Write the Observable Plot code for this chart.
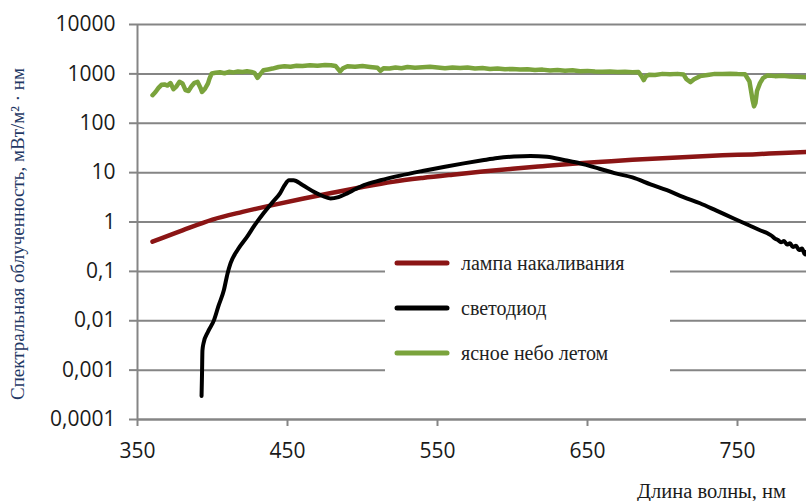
<!DOCTYPE html>
<html>
<head>
<meta charset="utf-8">
<script src="https://cdn.jsdelivr.net/npm/d3@7"></script>
<script src="https://cdn.jsdelivr.net/npm/@observablehq/plot@0.6"></script>
<style>
  body { margin: 0; background: #fff; }
  #wrap { position: relative; width: 806px; height: 501px; overflow: hidden; }
  #ytitle { position: absolute; left: -182px; top: 223px; width: 400px; text-align: center; line-height: 22px;
    transform: rotate(-90deg); font-family: "Liberation Serif", serif; font-size: 19px; color: #1f3864; white-space: nowrap; }
  #xtitle { position: absolute; left: 637px; top: 481px; line-height: 20px; font-family: "Liberation Serif", serif; font-size: 20.5px; color: #1a1a1a; white-space: nowrap; }
  #legend { position: absolute; left: 385px; top: 245px; width: 285px; height: 150px; background: #fff; }
  .lrow { position: absolute; left: 0; height: 24px; display: flex; align-items: center; }
  .lrow svg { margin-left: 9px; }
  .lrow span { margin-left: 11px; font-family: "Liberation Serif", serif; font-size: 20px; color: #222; white-space: nowrap; }
</style>
</head>
<body>
<div id="wrap"></div>
<script>
// ---- data ----
const xTicks = [350, 450, 550, 650, 750];
const yTicks = [10000, 1000, 100, 10, 1, 0.1, 0.01, 0.001, 0.0001];
const yTickLabels = ["10000", "1000", "100", "10", "1", "0,1", "0,01", "0,001", "0,0001"];

const seriesNames = ["лампа накаливания", "светодиод", "ясное небо летом"];
const seriesColors = ["#8b1515", "#000000", "#7aa33c"];

// incandescent lamp
const lampNm  = [360, 380, 400, 420, 440, 460, 480, 500, 520, 540, 560, 580, 600, 620, 640, 660, 680, 700, 720, 740, 760, 780, 796];
const lampVal = [0.40, 0.68, 1.12, 1.6, 2.2, 2.95, 3.9, 5.1, 6.5, 7.8, 9.1, 10.5, 12, 13.5, 15.1, 16.6, 18.2, 19.5, 20.9, 22.4, 23.4, 25.1, 26.3];

// LED
const ledNm  = [392.7, 393.0, 393.3, 394, 397, 401, 404, 407.6, 410, 412, 417, 423, 428, 434, 440, 445, 448, 451, 454, 460, 467.5, 473, 478.7, 484, 489.8, 495, 501, 512, 525, 540, 555, 567.5, 580, 590, 601, 612, 623, 635, 645, 658, 668, 680, 692, 703, 714, 725, 736, 747.5, 758, 765, 770, 773, 775, 777, 779, 781, 783, 785, 787, 789, 791, 793, 795, 796];
const ledVal = [0.0003, 0.0008, 0.0025, 0.0035, 0.006, 0.0103, 0.02, 0.042, 0.09, 0.145, 0.28, 0.5, 0.85, 1.5, 2.5, 3.8, 5.5, 7.0, 7.0, 5.6, 4.1, 3.4, 3.0, 3.2, 3.8, 4.6, 5.6, 7.0, 8.7, 10.8, 13.2, 15.4, 17.8, 19.8, 21.2, 21.8, 21, 17.8, 15.4, 12, 9.8, 8.0, 5.8, 4.4, 3.2, 2.4, 1.7, 1.18, 0.85, 0.68, 0.59, 0.52, 0.46, 0.43, 0.39, 0.41, 0.35, 0.37, 0.31, 0.33, 0.27, 0.29, 0.22, 0.25];

// clear summer sky
const skyNm  = [360, 362, 364, 366, 368, 370, 372, 374, 376, 378, 380, 382, 384, 386, 388, 390, 392, 393, 395, 397, 398, 399.5, 402, 405, 408, 411, 414, 417, 420, 423, 426, 428, 430, 432, 434, 437, 440, 444, 448, 452, 456, 460, 465, 470, 475, 479, 482, 485, 487, 490, 495, 500, 505, 510, 512, 514, 518, 522, 526, 530, 535, 540, 545, 550, 555, 560, 565, 570, 575, 580, 585, 590, 595, 600, 605, 610, 615, 620, 625, 630, 635, 640, 645, 650, 655, 660, 665, 670, 675, 680, 684, 686, 687.5, 689, 691, 695, 700, 705, 710, 714, 716, 718.7, 721, 725, 730, 735, 740, 745, 750, 755, 758, 760, 761, 762, 763, 765, 767, 770, 775, 780, 785, 790, 796];
const skyVal = [370, 430, 520, 600, 610, 580, 650, 490, 560, 690, 640, 470, 450, 560, 660, 690, 520, 430, 500, 640, 800, 1020, 1050, 1080, 1030, 1100, 1070, 1120, 1090, 1130, 1090, 1050, 830, 1000, 1180, 1230, 1280, 1380, 1430, 1400, 1460, 1440, 1500, 1460, 1510, 1500, 1450, 1120, 1300, 1430, 1400, 1440, 1380, 1330, 1150, 1300, 1290, 1350, 1300, 1380, 1330, 1360, 1390, 1340, 1300, 1350, 1310, 1340, 1280, 1310, 1250, 1290, 1240, 1260, 1220, 1240, 1200, 1220, 1170, 1200, 1160, 1180, 1130, 1150, 1120, 1110, 1120, 1090, 1100, 1080, 1090, 900, 750, 900, 960, 950, 1000, 980, 1000, 970, 780, 680, 780, 900, 950, 1000, 990, 1010, 990, 980, 700, 300, 220, 260, 450, 650, 820, 930, 900, 920, 880, 870, 850];

// ---- chart ----
const gray = "#858585";
const chart = Plot.plot({
  width: 806,
  height: 501,
  marginLeft: 137,
  marginRight: 0,
  marginTop: 24,
  marginBottom: 82,
  style: { background: "transparent", fontFamily: "'Open Sans', sans-serif", fontSize: "21px", color: "#1a1a1a" },
  x: { domain: [350, 796] },
  y: { type: "log", domain: [0.0001, 10000] },
  marks: [
    Plot.gridY(yTicks, { stroke: gray, strokeOpacity: 1, strokeWidth: 2 }),
    Plot.axisY(yTicks, { tickSize: 8, tickPadding: 14, tickFormat: d => yTickLabels[yTicks.indexOf(d)], stroke: gray, strokeWidth: 2, fill: "#1a1a1a", fontSize: 21, label: null }),
    Plot.axisX(xTicks, { tickSize: 7, tickPadding: 17, tickFormat: d => String(d), stroke: gray, strokeWidth: 2, fill: "#1a1a1a", fontSize: 21, label: null }),
    Plot.ruleX([350], { stroke: gray, strokeWidth: 2 }),
    Plot.ruleY([0.0001], { stroke: gray, strokeWidth: 2 }),
    Plot.line(skyVal, { x: skyNm, y: skyVal, stroke: seriesColors[2], strokeWidth: 4.5, strokeLinejoin: "round", strokeLinecap: "round" }),
    Plot.line(lampVal, { x: lampNm, y: lampVal, stroke: seriesColors[0], strokeWidth: 4.5, strokeLinejoin: "round", strokeLinecap: "round", curve: "monotone-x" }),
    Plot.line(ledVal, { x: ledNm, y: ledVal, stroke: seriesColors[1], strokeWidth: 4, strokeLinejoin: "round", strokeLinecap: "round", curve: "monotone-x" })
  ]
});

const wrap = document.getElementById("wrap");
wrap.appendChild(chart);

const yt = document.createElement("div");
yt.id = "ytitle";
yt.textContent = "Спектральная облученность, мВт/м² · нм";
wrap.appendChild(yt);

const xt = document.createElement("div");
xt.id = "xtitle";
xt.textContent = "Длина волны, нм";
wrap.appendChild(xt);

const legend = document.createElement("div");
legend.id = "legend";
const rowTops = [6, 51, 96];
seriesNames.forEach((name, i) => {
  const row = document.createElement("div");
  row.className = "lrow";
  row.style.top = rowTops[i] + "px";
  row.innerHTML = `<svg width="56" height="10"><line x1="3" y1="5" x2="53" y2="5" stroke="${seriesColors[i]}" stroke-width="5" stroke-linecap="round"/></svg><span>${name}</span>`;
  legend.appendChild(row);
});
wrap.appendChild(legend);
</script>
</body>
</html>
